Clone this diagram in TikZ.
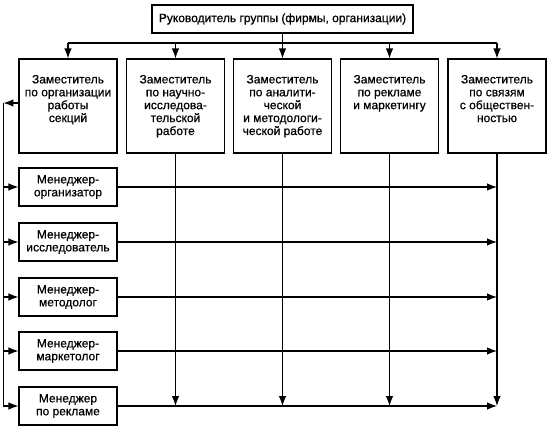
\documentclass[tikz,border=0pt]{standalone}
\usepackage{fontspec}
\setmainfont{Liberation Sans}[FakeBold=0.6]
\usetikzlibrary{arrows.meta}

\tikzset{
  box/.style={draw, line width=1.1pt, inner sep=0pt, fill=white},
  deputy/.style={box, minimum width=98pt, minimum height=94pt},
  manager/.style={box, minimum width=98pt, minimum height=38pt, align=center},
  arr/.style={-{Latex[length=10pt,width=7.5pt]}},
}
\newcommand{\deptext}[1]{\parbox[c][94pt][t]{98pt}{\vskip16pt\centering #1}}

\begin{document}
\begin{tikzpicture}[x=1pt, y=-1pt, line width=1.1pt,
  font=\fontsize{12}{12.9}\selectfont]

  %% ════ руководитель ════
  \node[box, minimum width=261pt, minimum height=28pt] (head) at (282.5,19) {Руководитель группы (фирмы, организации)};

  %% ════ заместители ════
  \node[deputy] (d1) at (68,106)    {\deptext{Заместитель\\по организации\\работы\\секций}};
  \node[deputy] (d2) at (175.5,106) {\deptext{Заместитель\\по научно-\\исследова-\\тельской\\работе}};
  \node[deputy] (d3) at (282.5,106) {\deptext{Заместитель\\по аналити-\\ческой\\и методологи-\\ческой работе}};
  \node[deputy] (d4) at (389.5,106) {\deptext{Заместитель\\по рекламе\\и маркетингу}};
  \node[deputy] (d5) at (497,106)   {\deptext{Заместитель\\по связям\\с обществен-\\ностью}};

  %% ════ менеджеры ════
  \node[manager] (m1) at (68,187) {Менеджер-\\организатор};
  \node[manager] (m2) at (68,242) {Менеджер-\\исследователь};
  \node[manager] (m3) at (68,297) {Менеджер-\\методолог};
  \node[manager] (m4) at (68,351) {Менеджер-\\маркетолог};
  \node[manager] (m5) at (68,406) {Менеджер\\по рекламе};

  %% ════ верхняя шина ════
  \coordinate (bus) at (282.5,43);
  \draw[arr] (head.south) -- (d3.north);
  \draw (d1.north |- bus) -- (d5.north |- bus);
  \foreach \i in {1,2,4,5}
    \draw[arr] (d\i.north |- bus) -- (d\i.north);

  %% ════ левая шина ════
  \draw[arr] ([yshift=3pt]d1.west) -- ++(-15,0) coordinate (lb);
  \draw (lb) -- (lb |- m5.west);
  \foreach \i in {1,...,5}
    \draw[arr] (lb |- m\i.west) -- (m\i.west);

  %% ════ горизонтали и вертикали ════
  \foreach \i in {1,...,5}
    \draw[arr] (m\i.east) -- (d5 |- m\i.east);
  \foreach \i in {2,...,5}
    \draw[arr] (d\i.south) -- (d\i |- m5.east);

  \pgfresetboundingbox
  \path[use as bounding box] (0,0) rectangle (550,431);
\end{tikzpicture}
\end{document}
